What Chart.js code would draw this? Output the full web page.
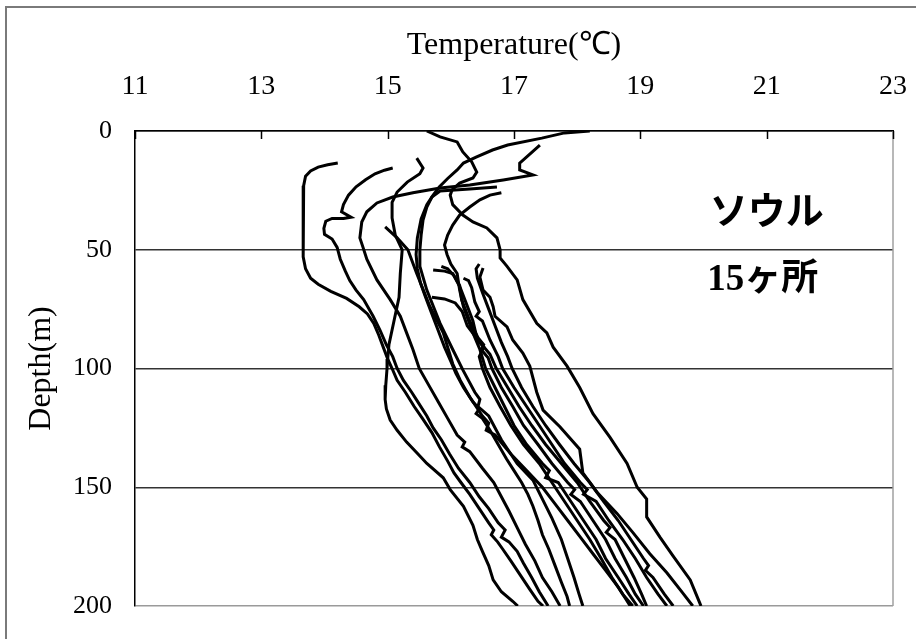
<!DOCTYPE html>
<html>
<head>
<meta charset="utf-8">
<script src="https://cdn.jsdelivr.net/npm/chart.js@4/dist/chart.umd.min.js"></script>
<style>
  html, body { margin: 0; padding: 0; background: #fff; }
  #c { display: block; }
</style>
</head>
<body>
<canvas id="c" width="916" height="639"></canvas>
<script>
// ---- axis definitions ----
const tempTicks = [11, 13, 15, 17, 19, 21, 23];
const depthTicks = [0, 50, 100, 150, 200];
const xTitle = 'Temperature(℃)';
const yTitle = 'Depth(m)';
const labelMain = 'ソウル';
const labelCount = '15ヶ所';

// ---- temperature profiles: [temperature °C, depth m] ----
const well01 = [[14.21,13.5],[14.05,14.2],[13.9,15.2],[13.78,16.8],[13.7,19],[13.67,23],[13.66,30],[13.66,38],[13.66,46],[13.67,53],[13.7,58],[13.78,62],[13.9,64.5],[14.1,67.5],[14.35,70.5],[14.55,74],[14.68,77],[14.78,81],[14.86,86],[14.93,91],[15.0,96],[15.07,100],[15.15,105],[15.28,110],[15.42,116],[15.55,121],[15.7,127],[15.82,133],[15.95,139],[16.05,144],[16.16,148],[16.3,153],[16.45,159],[16.6,165],[16.68,168],[16.64,170],[16.74,173],[16.82,176],[16.95,181],[17.1,187],[17.25,193],[17.38,198],[17.46,200]];
const well02 = [[15.08,15.6],[14.95,16.5],[14.8,18],[14.65,20.5],[14.5,23.5],[14.38,27],[14.3,31],[14.27,34],[14.42,36.3],[14.3,36.8],[14.12,36.8],[14.02,38],[13.99,41],[14.0,43.5],[14.12,45.5],[14.2,49],[14.25,54],[14.33,59],[14.4,63],[14.5,67],[14.62,71],[14.77,78],[14.88,84],[14.98,90],[15.08,95],[15.15,100],[15.25,105],[15.38,110],[15.5,115],[15.62,120],[15.72,125],[15.85,130],[15.98,136],[16.12,142],[16.3,148],[16.45,154],[16.6,159],[16.75,165],[16.86,168],[16.8,171],[16.92,173],[17.05,177],[17.15,182],[17.28,188],[17.4,194],[17.54,200]];
const well03 = [[15.46,11.4],[15.56,15.6],[15.51,18],[15.31,21.5],[15.15,25.7],[15.07,30],[15.07,36.6],[15.12,43.8],[15.23,50],[15.2,60],[15.18,70],[15.1,80],[15.02,90],[15.0,96],[14.99,100],[14.97,107],[14.96,113],[14.98,117],[15.04,121.7],[15.15,126],[15.3,131],[15.48,136],[15.62,140],[15.88,146],[15.99,151],[16.2,158],[16.35,166],[16.42,172],[16.5,177],[16.6,183],[16.67,189],[16.8,194],[16.98,198],[17.06,200]];
const well04 = [[15.62,0],[15.83,2.5],[16.1,4.6],[16.19,8.8],[16.33,13],[16.41,17.3],[16.35,19.8],[16.14,21.9],[16.02,24.8],[15.99,27],[16.03,31],[16.19,35.4],[16.35,38.3],[16.57,40.8],[16.73,45],[16.78,50],[16.78,53.5],[16.89,57],[17.05,62.7],[17.14,71],[17.36,81],[17.52,85],[17.62,91],[17.84,99],[18.04,108],[18.25,119],[18.52,129],[18.79,140],[18.95,150],[19.1,155],[19.1,162.5],[19.31,171],[19.52,179],[19.79,189],[19.94,198.7],[19.96,200]];
const well05 = [[18.2,0],[17.8,0.8],[17.44,3],[16.9,5.9],[16.66,8],[16.4,11],[16.2,13.5],[16.1,16.4],[15.95,20],[15.82,23.5],[15.72,27],[15.62,31],[15.53,37],[15.47,45],[15.45,52],[15.47,58],[15.52,64],[15.6,70],[15.7,77],[15.8,84],[15.9,91],[16.0,97],[16.08,102],[16.2,108],[16.35,114],[16.45,117],[16.4,119],[16.5,121],[16.62,126],[16.75,132],[16.88,138],[17.0,143],[17.12,148],[17.22,153],[17.3,158],[17.38,164],[17.45,170],[17.55,176],[17.65,183],[17.75,190],[17.84,196],[17.88,200]];
const well06 = [[17.41,5.9],[17.09,13.5],[17.09,16.4],[17.3,18.5],[16.83,20.6],[16.3,22.7],[15.83,24],[15.4,26],[15.08,27.8],[14.83,30.3],[14.67,34],[14.59,38.3],[14.56,45],[14.61,49],[14.67,54],[14.83,62.7],[15.04,71],[15.2,78],[15.3,85],[15.4,92],[15.5,100],[15.65,107],[15.8,114],[15.95,121],[16.1,128],[16.22,131],[16.18,133],[16.3,135],[16.5,142],[16.68,148],[16.8,154],[16.92,160],[17.05,167],[17.18,174],[17.33,181],[17.45,188],[17.6,194],[17.73,200]];
const well07 = [[16.73,23.6],[16.3,24.4],[15.83,25.3],[15.7,27.8],[15.62,32],[15.56,37.5],[15.53,43.8],[15.51,50],[15.51,57],[15.62,67],[15.83,81],[16.03,92],[16.19,100.6],[16.38,110],[16.46,113],[16.43,116],[16.6,120],[16.8,130],[17.05,140],[17.3,147],[17.45,155],[17.6,163],[17.75,172],[17.85,180],[17.95,188],[18.03,195],[18.09,200]];
const well08 = [[14.96,40.4],[15.15,45],[15.32,50],[15.46,60],[15.67,74],[15.88,85],[16.03,98],[16.15,105],[16.3,112],[16.5,120],[16.6,123],[16.56,126],[16.7,128],[16.95,136],[17.2,143],[17.45,150],[17.65,157],[17.85,164],[18.05,171],[18.25,178],[18.45,185],[18.65,192],[18.84,200]];
const well09 = [[16.8,26],[16.62,27],[16.46,29],[16.3,32],[16.14,35.4],[16.03,39.6],[15.95,43.8],[15.9,48],[15.94,52],[16.0,56],[16.1,60],[16.14,67],[16.2,74],[16.35,85],[16.46,92],[16.55,100],[16.7,108],[16.85,116],[17.0,124],[17.2,132],[17.45,140],[17.56,143],[17.5,146],[17.7,148],[17.9,156],[18.1,164],[18.3,172],[18.45,180],[18.65,188],[18.82,195],[18.95,200]];
const well10 = [[16.51,57.7],[16.46,61.5],[16.51,67],[16.62,70],[16.67,74],[16.7,78],[16.89,82.5],[16.98,88],[17.14,93.5],[17.25,99],[17.36,110],[17.46,117.5],[17.73,124.6],[18.04,134],[18.09,144],[18.31,152],[18.63,161],[18.88,169],[19.15,178],[19.42,186],[19.67,194.5],[19.83,200]];
const well11 = [[15.72,58.5],[15.9,59],[16.03,60],[16.14,65],[16.17,71],[16.3,80],[16.43,87],[16.52,90],[16.48,92],[16.59,95.5],[16.65,100],[16.8,108],[16.98,116],[17.15,124],[17.38,132],[17.6,140],[17.85,148],[17.96,151],[17.9,153],[18.05,156],[18.25,164],[18.45,172],[18.6,180],[18.78,188],[18.92,195],[19.05,200]];
const well12 = [[15.7,70],[15.9,70.7],[16.07,72.4],[16.18,76],[16.26,82],[16.43,88],[16.62,94],[16.72,100],[16.9,108],[17.08,116],[17.28,124],[17.5,132],[17.75,140],[18.0,148],[18.2,156],[18.42,164],[18.52,167],[18.46,169],[18.6,172],[18.75,180],[18.9,188],[19.02,195],[19.1,200]];
const well13 = [[16.2,62],[16.28,63],[16.33,66],[16.38,72],[16.45,76],[16.4,78],[16.5,80],[16.62,88],[16.75,95],[16.82,100],[17.0,108],[17.2,116],[17.4,124],[17.6,132],[17.8,140],[18.05,148],[18.16,151],[18.1,153],[18.3,156],[18.5,164],[18.72,172],[18.92,180],[19.1,188],[19.28,195],[19.42,200]];
const well14 = [[16.45,56],[16.4,58],[16.42,62],[16.5,68],[16.6,75],[16.7,82],[16.8,89],[16.9,95],[16.97,100],[17.12,108],[17.3,116],[17.5,124],[17.72,132],[17.95,140],[18.2,148],[18.42,156],[18.65,164],[18.85,172],[19.05,180],[19.13,183],[19.08,185],[19.2,188],[19.38,195],[19.52,200]];
const well15 = [[15.85,57],[15.95,58],[16.05,61],[16.15,66],[16.25,73],[16.35,80],[16.42,88],[16.52,91],[16.45,95],[16.5,100],[16.62,108],[16.78,116],[16.95,124],[17.15,132],[17.4,140],[17.6,148],[17.8,156],[18.0,164],[18.2,172],[18.38,180],[18.55,188],[18.72,195],[18.88,200]];

const wells = [well01, well02, well03, well04, well05, well06, well07, well08, well09, well10, well11, well12, well13, well14, well15];

const SERIF = '"Liberation Serif", "Times New Roman", serif';
const CLEAR = 'rgba(0,0,0,0)';

const framePlugin = {
  id: 'frame',
  beforeDraw(chart) {
    const ctx = chart.ctx;
    ctx.save();
    ctx.fillStyle = '#fff';
    ctx.fillRect(0, 0, chart.width, chart.height);
    ctx.strokeStyle = '#7a7a7a';
    ctx.lineWidth = 2;
    ctx.beginPath();
    ctx.moveTo(6, chart.height);
    ctx.lineTo(6, 7);
    ctx.lineTo(chart.width, 7);
    ctx.stroke();
    ctx.restore();
  },
  afterDraw(chart) {
    const ctx = chart.ctx;
    const a = chart.chartArea;
    const xs = chart.scales.x;
    const ys = chart.scales.y;
    ctx.save();
    ctx.strokeStyle = '#a0a0a0';
    ctx.lineWidth = 1.5;
    ctx.beginPath();
    ctx.moveTo(a.right, a.top);
    ctx.lineTo(a.right, a.bottom);
    ctx.stroke();
    ctx.strokeStyle = '#000';
    ctx.lineWidth = 1.5;
    tempTicks.forEach(v => {
      const px = Math.round(xs.getPixelForValue(v)) + 0.5;
      ctx.beginPath();
      ctx.moveTo(px, a.top);
      ctx.lineTo(px, a.top + 8);
      ctx.stroke();
    });
    ctx.fillStyle = '#000';
    ctx.textAlign = 'left';
    ctx.textBaseline = 'middle';
    ctx.font = 'bold 38px "Noto Sans CJK JP", sans-serif';
    ctx.fillText(labelMain, xs.getPixelForValue(20.1), ys.getPixelForValue(33));
    ctx.font = 'bold 37px "Liberation Serif", "Noto Sans CJK JP", serif';
    ctx.fillText(labelCount, xs.getPixelForValue(20.06), ys.getPixelForValue(63));
    ctx.restore();
  }
};

new Chart(document.getElementById('c'), {
  type: 'scatter',
  data: {
    datasets: wells.map((w, i) => ({
      label: 'well' + (i + 1),
      data: w.map(p => ({ x: p[0], y: p[1] })),
      showLine: true,
      borderColor: '#000',
      backgroundColor: '#000',
      borderWidth: 3,
      pointRadius: 0,
      tension: 0,
      fill: false
    }))
  },
  options: {
    responsive: false,
    animation: false,
    devicePixelRatio: 1,
    layout: { padding: { left: 0, top: 0, right: 23, bottom: 33 } },
    plugins: { legend: { display: false }, tooltip: { enabled: false } },
    scales: {
      x: {
        type: 'linear',
        position: 'top',
        min: 11, max: 23,
        afterBuildTicks: s => { s.ticks = tempTicks.map(v => ({ value: v })); },
        afterFit: s => { s.height = 131; },
        ticks: { color: '#000', font: { family: SERIF, size: 28 }, padding: 0 },
        grid: { display: true, drawOnChartArea: false, drawTicks: true, tickLength: 28, color: CLEAR, tickColor: CLEAR },
        border: { display: true, color: '#000', width: 1.5 },
        title: { display: true, text: xTitle, color: '#000', font: { family: SERIF, size: 32 }, padding: { top: 26, bottom: 0 } }
      },
      y: {
        type: 'linear',
        position: 'left',
        reverse: true,
        min: 0, max: 200,
        afterBuildTicks: s => { s.ticks = depthTicks.map(v => ({ value: v })); },
        afterFit: s => { s.width = 135; },
        ticks: { color: '#000', font: { family: SERIF, size: 26 }, padding: 0 },
        grid: {
          display: true, drawTicks: true, tickLength: 23, lineWidth: 1.5, tickColor: CLEAR,
          color: c => (c.tick && c.tick.value === 200) ? '#9a9a9a' : '#333'
        },
        border: { display: true, color: '#000', width: 1.5 },
        title: { display: true, text: yTitle, color: '#000', font: { family: SERIF, size: 32 }, padding: { top: 22, bottom: 0 } }
      }
    }
  },
  plugins: [framePlugin]
});
</script>
</body>
</html>
